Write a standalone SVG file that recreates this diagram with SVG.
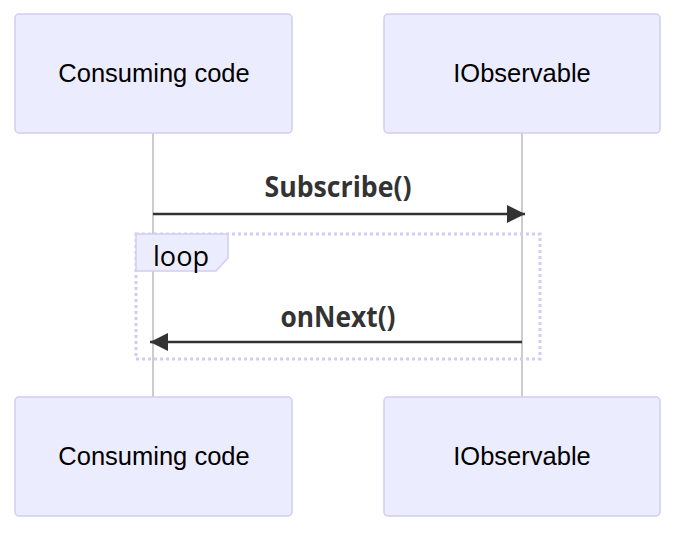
<svg xmlns="http://www.w3.org/2000/svg" width="680" height="536" viewBox="0 0 680 536">
<defs>
<style>
.actor{fill:#ECECFF;stroke:#D4CCF2;stroke-width:1.5}
.atext{font-family:"Liberation Sans",Arial,sans-serif;font-size:25.5px;fill:#000;text-anchor:middle}
.life{stroke:#999;stroke-width:1}
.msg{stroke:#333;stroke-width:2.5;fill:none}
.mtext{font-family:"Open Sans","DejaVu Sans",sans-serif;font-weight:bold;font-size:28px;fill:#333;text-anchor:middle}
.loop{fill:none;stroke:#D4CCF2;stroke-width:3;stroke-dasharray:3,3}
.ltext{font-family:"Open Sans","DejaVu Sans",sans-serif;font-size:28px;fill:#000}
</style>
<marker id="ah2" viewBox="0 0 12 12" refX="12" refY="6" markerWidth="20" markerHeight="18" markerUnits="userSpaceOnUse" orient="auto">
<path d="M0,0 L12,6 L0,12 z" fill="#333"/>
</marker>
</defs>
<rect width="680" height="536" fill="#fff"/>
<g id="lifelines">
<line class="life" x1="153" y1="133" x2="153" y2="397"/>
<line class="life" x1="522" y1="133" x2="522" y2="397"/>
</g>
<g id="actor-consuming-top">
<rect class="actor" x="15" y="14" width="277" height="119" rx="4"/>
<text class="atext" x="154" y="82">Consuming code</text>
</g>
<g id="actor-iobservable-top">
<rect class="actor" x="384" y="14" width="276" height="119" rx="4"/>
<text class="atext" x="522" y="82">IObservable</text>
</g>
<g id="loop">
<rect class="loop" x="136" y="234" width="404" height="125"/>
<path d="M136,234 L228,234 L228,258 L216,271 L136,271 z" fill="#ECECFF" stroke="#D4CCF2" stroke-width="1.5"/>
<text class="ltext" x="153" y="266" textLength="56" lengthAdjust="spacingAndGlyphs">loop</text>
</g>
<g id="connectors">
<line class="msg" x1="153" y1="214" x2="525" y2="214" marker-end="url(#ah2)"/>
<text class="mtext" x="338" y="197" textLength="147" lengthAdjust="spacingAndGlyphs">Subscribe()</text>
<line class="msg" x1="522" y1="342" x2="150" y2="342" marker-end="url(#ah2)"/>
<text class="mtext" x="338" y="327" textLength="115" lengthAdjust="spacingAndGlyphs">onNext()</text>
</g>
<g id="actor-consuming-bottom">
<rect class="actor" x="15" y="397" width="277" height="119" rx="4"/>
<text class="atext" x="154" y="465">Consuming code</text>
</g>
<g id="actor-iobservable-bottom">
<rect class="actor" x="384" y="397" width="276" height="119" rx="4"/>
<text class="atext" x="522" y="465">IObservable</text>
</g>
</svg>
